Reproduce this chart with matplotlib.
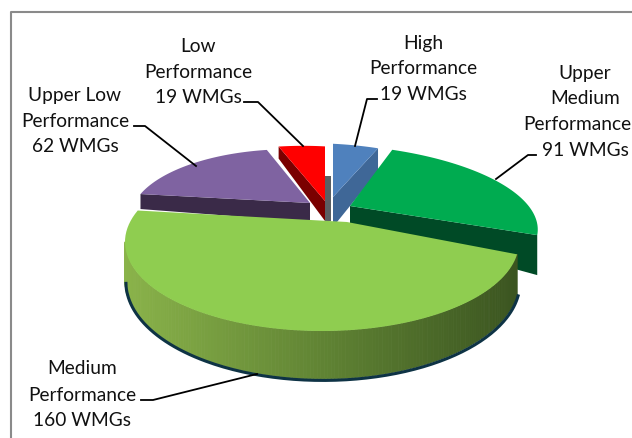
import matplotlib
matplotlib.use("Agg")
import matplotlib.pyplot as plt
from matplotlib.collections import PolyCollection
from matplotlib.colors import to_rgb
import numpy as np

# slices clockwise from 12 o'clock
names = ["High Performance", "Upper Medium Performance", "Medium Performance", "Upper Low Performance", "Low Performance"]
wmgs = [19, 91, 160, 62, 19]

# label text, broken the way the chart breaks it
label_lines = [["High", "Performance", "19 WMGs"],
               ["Upper", "Medium", "Performance", "91 WMGs"],
               ["Medium", "Performance", "160 WMGs"],
               ["Upper Low", "Performance", "62 WMGs"],
               ["Low", "Performance", "19 WMGs"]]

top_colors = ["#4f81bd", "#00ab50", "#8fcd50", "#7f63a1", "#ff0000"]
side_colors = ["#3f6797", "#004a26", "#5f8233", "#3a2a48", "#7a0000"]

# fake 3d: where each slice tip sits (pixels) and how it is squashed
apex = [(333, 198), (350, 207), (347, 223), (310, 204), (325, 202)]
squash = [(0.92, 0.78), (1.07, 0.90), (1.0, 1.0), (0.81, 0.78), (0.87, 0.80)]
shear = [0, 0.18, 0, 0, 0]
RX, RY = 197, 89
TILT = np.array([0.127, -0.225])  # tip is off the ellipse centre

angles = np.cumsum([0] + wmgs) / sum(wmgs) * 360


def rim(i, theta):
    theta = np.radians(np.atleast_1d(theta))
    dx, dy = np.sin(theta), -np.cos(theta)
    pd = TILT[0] * dx + TILT[1] * dy
    t = -pd + np.sqrt(pd ** 2 + 1 - TILT @ TILT)
    off_y = RY * squash[i][1] * t * dy
    off_x = RX * squash[i][0] * t * dx + shear[i] * off_y
    return np.column_stack([apex[i][0] + off_x, apex[i][1] + off_y])


def top_face(i):
    arc = rim(i, np.linspace(angles[i], angles[i + 1], 80))
    return np.vstack([[apex[i]], arc])


def radial_wall(i, theta, near, far):
    end = rim(i, theta)[0]
    a = np.array(apex[i], float)
    return np.array([a, end, end + [0, far], a + [0, near]])


plt.rcParams["font.family"] = ["Lato", "DejaVu Sans"]
fig = plt.figure(figsize=(6.32, 4.39), dpi=100)
ax = fig.add_axes([0, 0, 1, 1])
ax.set_xlim(0, 632)
ax.set_ylim(439, 0)
ax.axis("off")

# frame runs off the right and bottom of the crop
ax.plot([632, 11, 11], [13, 13, 439], color="#8a8a8a", lw=1.5)

# upper medium: wall under the top
ax.fill(*radial_wall(1, angles[2], 18, 40).T, color=side_colors[1], lw=0)

# high, low, upper low
ax.fill(*radial_wall(0, angles[1], 30, 23).T, color=side_colors[0], lw=0)
ax.fill(*radial_wall(4, angles[4], 20, 12).T, color=side_colors[4], lw=0)
ax.fill(*radial_wall(3, angles[3], 19, 15).T, color=side_colors[3], lw=0)
ax.fill([325, 325, 331, 331], [177, 222, 222, 177], color="#5a5f63", lw=0)
for i in [0, 4, 3, 1]:
    ax.fill(*top_face(i).T, color=top_colors[i], lw=0)

# medium: shaded outer wall and dark rim, only where the wall faces us
arc = rim(2, np.linspace(angles[2], angles[3], 200))
arc = arc[:np.argmin(arc[:, 0]) + 1]
depth = 40 + 8 * np.clip((arc[:, 1] - 255) / 78, 0, 1)
low = arc + np.column_stack([np.zeros(len(arc)), depth])
ax.plot(low[:, 0] + 1, low[:, 1] + 1.5, color="#0e3345", lw=2.2)
left, mid, right = [np.array(to_rgb(c)) for c in ("#8ab34a", "#5f8233", "#3b5520")]
quads, shades = [], []
for k in range(len(arc) - 1):
    quads.append([arc[k], arc[k + 1], low[k + 1], low[k]])
    x = arc[k, 0]
    shades.append([np.interp(x, [125, 330, 515], [left[c], mid[c], right[c]]) for c in range(3)])
ax.add_collection(PolyCollection(quads, facecolors=shades, edgecolors=shades, linewidths=0.6))
ax.fill(*top_face(2).T, color=top_colors[2], lw=0)

# leaders
leader_x = [[377, 367, 355], [536, 528, 496], [141, 153, 257], [134, 145, 196], [244, 258, 303]]
leader_y = [[100, 100, 147], [156, 156, 180], [401, 401, 375], [127, 127, 167], [103, 103, 147]]
for xs, ys in zip(leader_x, leader_y):
    ax.plot(xs, ys, color="black", lw=1.3)

# labels
label_x = [423, 585, 82, 75, 198]
label_y = [[44, 69, 94], [74, 99, 125, 151], [369, 396, 421], [96, 122, 147], [47, 73, 98]]
for lines, x, ys in zip(label_lines, label_x, label_y):
    for line, y in zip(lines, ys):
        # the long line next to the right edge is pulled in so it stays whole
        line_x = 577 if x == 585 and line == "Performance" else x
        ax.text(line_x, y, line, ha="center", va="center", fontsize=13.8, color="#111111")

fig.savefig("out.png", dpi=100)
